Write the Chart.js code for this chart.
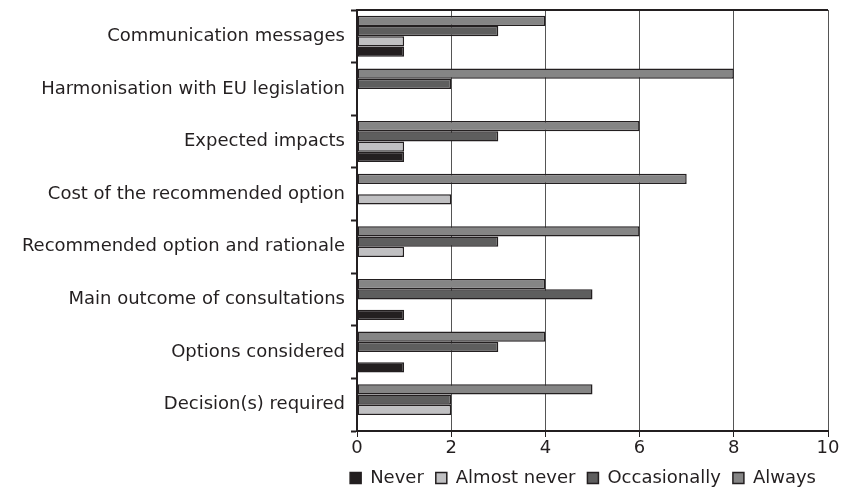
<!DOCTYPE html>
<html>
<head>
<meta charset="utf-8">
<script src="https://cdn.jsdelivr.net/npm/chart.js@4/dist/chart.umd.min.js"></script>
<style>
  html, body { margin: 0; padding: 0; background: #fff; }
  #chart { display: block; }
</style>
</head>
<body>
<canvas id="chart" width="845" height="491"></canvas>
<script>
const categories = [
  'Communication messages',
  'Harmonisation with EU legislation',
  'Expected impacts',
  'Cost of the recommended option',
  'Recommended option and rationale',
  'Main outcome of consultations',
  'Options considered',
  'Decision(s) required'
];
const always       = [4, 8, 6, 7, 6, 4, 4, 5];
const occasionally = [3, 2, 3, 0, 3, 5, 3, 2];
const almostNever  = [1, 0, 1, 2, 1, 0, 0, 2];
const never        = [1, 0, 1, 0, 0, 1, 1, 0];
const xTicks = [0, 2, 4, 6, 8, 10];

const FONT = { family: 'DejaVu Sans', size: 18 };
const INK = '#231f20';

// frame line along the top of the plot area
const topBorder = {
  id: 'topBorder',
  afterDraw(chart) {
    const { ctx, chartArea } = chart;
    ctx.save();
    ctx.strokeStyle = INK;
    ctx.lineWidth = 2;
    ctx.beginPath();
    ctx.moveTo(chartArea.left, chartArea.top);
    ctx.lineTo(chartArea.right, chartArea.top);
    ctx.stroke();
    ctx.restore();
  }
};

function series(label, data, color) {
  return {
    label, data,
    backgroundColor: color,
    borderColor: INK,
    borderWidth: 1.5,
    borderSkipped: false,
    categoryPercentage: 0.78,
    barPercentage: 1.0
  };
}

new Chart(document.getElementById('chart'), {
  type: 'bar',
  data: {
    labels: categories,
    datasets: [
      series('Always', always, '#858585'),
      series('Occasionally', occasionally, '#5e5e5e'),
      series('Almost never', almostNever, '#c0c0c2'),
      series('Never', never, INK)
    ]
  },
  options: {
    indexAxis: 'y',
    responsive: false,
    animation: false,
    layout: { padding: { top: 10, right: 17, left: 0, bottom: 0 } },
    plugins: {
      tooltip: { enabled: false },
      legend: {
        position: 'bottom',
        align: 'end',
        reverse: true,
        maxHeight: 34,
        labels: {
          color: INK,
          font: FONT,
          boxWidth: 11,
          boxHeight: 11,
          padding: 12
        }
      }
    },
    scales: {
      x: {
        min: 0, max: 10,
        afterBuildTicks(axis) { axis.ticks = xTicks.map(v => ({ value: v })); },
        afterFit(axis) { axis.height = 26; },
        ticks: { color: INK, font: FONT, padding: 1 },
        grid: { color: '#555', lineWidth: 1, tickLength: 6, tickColor: INK },
        border: { color: INK, width: 2 }
      },
      y: {
        afterFit(axis) {
          axis.width = 357;
          axis.paddingTop = 0;
          axis.paddingBottom = 0;
        },
        ticks: { color: INK, font: FONT, padding: 6 },
        grid: { offset: true, drawOnChartArea: false, tickLength: 6, tickColor: INK, tickWidth: 2 },
        border: { color: INK, width: 2 }
      }
    }
  },
  plugins: [topBorder]
});
</script>
</body>
</html>
